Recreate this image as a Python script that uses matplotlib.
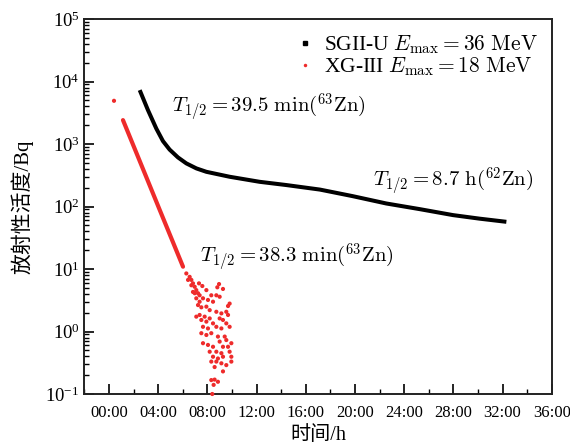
import matplotlib
matplotlib.use("Agg")
from matplotlib import pyplot as plt
from matplotlib.lines import Line2D

plt.rcParams['mathtext.fontset'] = 'cm'
plt.rcParams['font.family'] = ['Liberation Serif', 'Noto Sans CJK SC']

# SGII-U 测量数据 (时间/h, 活度/Bq)
sg_t = [2.50, 3.17, 3.85, 4.39, 4.93, 5.61, 6.29, 7.11, 7.92, 9.81, 12.25,
        14.42, 17.15, 19.8, 22.55, 25.26, 27.97, 30.14, 32.31]
sg_a = [7310, 3500, 1770, 1117, 817, 612, 491, 408, 360, 300, 249,
        221, 187, 147, 112, 91, 73, 64, 57]

# XG-III 直线衰减部分
xg_line_t = [1.14, 3.04, 4.12, 5.2, 6.02]
xg_line_a = [2420, 295, 89, 27, 10.9]

# XG-III 散点 (首点 + 低计数区)
xg_t = [0.41,
        6.29, 6.56, 6.70, 6.83, 6.97, 6.70, 6.43, 7.10, 7.24, 6.83, 7.37, 6.97, 7.10, 7.37,
        7.32, 7.59, 8.95, 8.81, 9.27, 7.92, 8.32, 8.73, 9.00, 7.645, 8.05, 8.46,
        9.81, 9.68, 7.24, 7.51, 7.92, 8.19, 8.73, 9.14, 9.54, 7.37, 7.10, 7.78,
        8.19, 9.00, 9.68, 7.51, 7.92, 8.46, 9.27, 9.54, 7.645, 8.05, 8.73, 9.14,
        9.81, 7.51, 7.92, 8.32, 8.86, 9.41, 9.54, 9.95, 7.645, 8.05, 8.46, 9.00,
        9.27, 9.68, 8.19, 8.73, 9.14, 9.81, 8.46, 8.86, 9.27, 9.95, 8.32, 8.73,
        9.14, 9.54, 9.95, 8.59, 9.27, 8.32, 8.59, 8.86, 8.51, 8.40]
xg_a = [4930,
        8.5, 7.5, 6.7, 5.9, 5.2, 5.5, 6.7, 4.6, 4.1, 4.3, 3.8, 4.1, 3.4, 3.0,
        5.9, 5.35, 5.75, 5.1, 4.8, 4.6, 3.8, 3.8, 3.6, 3.4, 3.2, 3.0,
        2.8, 2.56, 2.65, 2.44, 2.5, 2.2, 2.07, 1.95, 2.07, 1.84, 1.73, 1.73,
        1.62, 1.62, 1.84, 1.53, 1.44, 1.35, 1.53, 1.35, 1.19, 1.12, 1.19, 1.12,
        1.19, 0.94, 0.88, 0.94, 0.83, 0.83, 0.73, 0.65, 0.65, 0.61, 0.57, 0.69,
        0.57, 0.57, 0.475, 0.475, 0.45, 0.475, 0.395, 0.37, 0.395, 0.395, 0.33, 0.33,
        0.31, 0.29, 0.33, 0.27, 0.23, 0.167, 0.17, 0.157, 0.14, 0.10]

xticks = [0, 4, 8, 12, 16, 20, 24, 28, 32, 36]
xticklabels = ["00:00", "04:00", "08:00", "12:00", "16:00", "20:00",
               "24:00", "28:00", "32:00", "36:00"]
yticks = [1e-1, 1e0, 1e1, 1e2, 1e3, 1e4, 1e5]

fig = plt.figure(figsize=(5.7, 4.46), dpi=100)
ax = fig.add_axes([0.148, 0.1166, 0.82, 0.8405])

ax.plot(sg_t, sg_a, color='k', lw=2.9, solid_capstyle='butt', zorder=3)
ax.plot(xg_line_t, xg_line_a, color='#ee2b2b', lw=3.0, solid_capstyle='round', zorder=3)
ax.scatter(xg_t, xg_a, s=9, color='#ee2b2b', edgecolors='none', zorder=3, clip_on=False)

ax.set_yscale('log')
ax.set_yticks(yticks)
ax.set_ylim(0.1, 1e5)
ax.set_xlim(-2, 36)
ax.set_xticks(xticks)
ax.set_xticklabels(xticklabels, fontsize=12)
ax.set_xticks(range(-2, 37, 4), minor=True)
ax.tick_params(axis='x', which='major', labelsize=12, pad=8)
ax.tick_params(axis='y', which='major', labelsize=13.5)
ax.tick_params(axis='both', which='major', direction='in', length=7, width=1.2,
               top=False, right=False)
ax.tick_params(axis='both', which='minor', direction='in', length=3.5, width=1,
               top=False, right=False)
for s in ax.spines.values():
    s.set_linewidth(1.4)
    s.set_color('#222222')

ax.set_xlabel("时间/h", fontsize=14.5, family=['Liberation Serif', 'Noto Sans CJK SC'])
ax.set_ylabel("放射性活度/Bq", fontsize=15, family=['Liberation Serif', 'Noto Sans CJK SC'])
ax.xaxis.set_label_coords(0.5, -0.11)
ax.xaxis.label.set_va('center')
ax.yaxis.set_label_coords(-0.134, 0.5)
ax.yaxis.label.set_va('center')

ax.text(5.1, 3770, r"$T_{1/2}=39.5\ \mathrm{min}(^{63}\mathrm{Zn})$", fontsize=15, va='center')
ax.text(21.5, 247, r"$T_{1/2}=8.7\ \mathrm{h}(^{62}\mathrm{Zn})$", fontsize=15, va='center')
ax.text(7.38, 15, r"$T_{1/2}=38.3\ \mathrm{min}(^{63}\mathrm{Zn})$", fontsize=15, va='center')

handles = [Line2D([], [], ls='none', marker='s', ms=2.5, color='k'),
           Line2D([], [], ls='none', marker='o', ms=2.5, color='#ee2b2b', mec='none')]
labels = [r"SGII-U $E_{\max}=36\ \mathrm{MeV}$", r"XG-III $E_{\max}=18\ \mathrm{MeV}$"]
ax.legend(handles, labels, loc='upper right', frameon=False, fontsize=15.5,
          handlelength=0.6, handletextpad=0.6, labelspacing=-0.02,
          borderpad=0.2, borderaxespad=0.45)

fig.savefig("out.png", dpi=100)
